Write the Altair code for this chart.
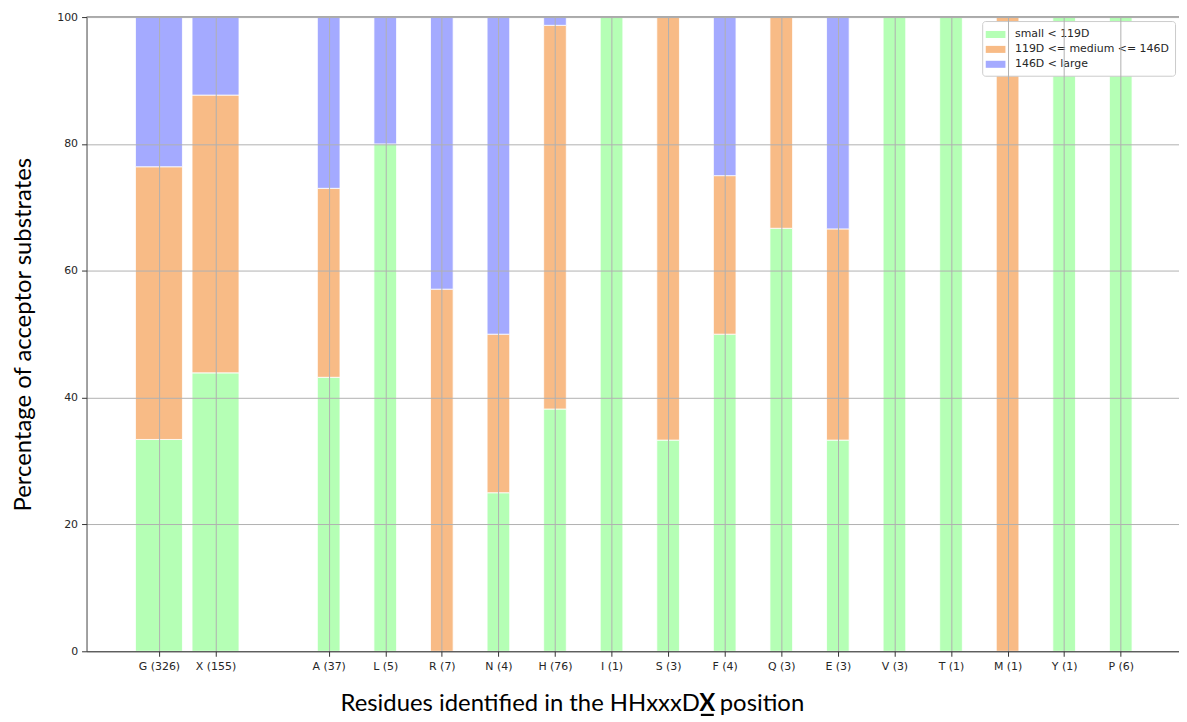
import altair as alt
import pandas as pd

categories = ["G (326)", "X (155)", "A (37)", "L (5)", "R (7)", "N (4)", "H (76)", "I (1)",
              "S (3)", "F (4)", "Q (3)", "E (3)", "V (3)", "T (1)", "M (1)", "Y (1)", "P (6)"]
positions = [0, 1, 3, 4, 5, 6, 7, 8, 9, 10, 11, 12, 13, 14, 15, 16, 17]
bar_widths = [0.83, 0.83] + [0.4] * 15
small = [33.4, 43.9, 43.2, 80.0, 0.0, 25.0, 38.2, 100.0, 33.3, 50.0, 66.7, 33.3, 100.0, 100.0, 0.0, 100.0, 100.0]
medium = [43.0, 43.8, 29.8, 0.0, 57.1, 25.0, 60.5, 0.0, 66.7, 25.0, 33.3, 33.3, 0.0, 0.0, 100.0, 0.0, 0.0]
large = [23.6, 12.3, 27.0, 20.0, 42.9, 50.0, 1.3, 0.0, 0.0, 25.0, 0.0, 33.4, 0.0, 0.0, 0.0, 0.0, 0.0]
series = ["small < 119D", "119D <= medium <= 146D", "146D < large"]
colors = ["#b5ffb5", "#f8bb86", "#a4aaff"]

rows = []
for i, cat in enumerate(categories):
    for k, vals in enumerate([small, medium, large]):
        rows.append({"cat": cat, "pos": positions[i], "w": bar_widths[i],
                     "series": series[k], "order": k, "value": vals[i]})
df = pd.DataFrame(rows)

label_expr = "[" + ",".join("'%s'" % c for c in categories) + "][indexof([" + \
    ",".join(str(p) for p in positions) + "], datum.value)]"

W, H = 1099, 638

bars = alt.Chart(df).transform_filter("datum.value > 0").transform_stack(
    stack="value", groupby=["pos"], sort=[{"field": "order", "order": "ascending"}], as_=["y0", "y1"]
).transform_calculate(
    x0="datum.pos - datum.w / 2", x1="datum.pos + datum.w / 2"
).mark_bar(stroke="white", strokeWidth=0.8).encode(
    x=alt.X("x0:Q", scale=alt.Scale(domain=[-1.28, 18.03], nice=False, zero=False),
            axis=alt.Axis(values=positions, labelExpr=label_expr, title=None, grid=True,
                          gridColor="#b0b0b0", gridWidth=1, tickSize=5, tickColor="#333",
                          domainColor="#333", labelPadding=4, zindex=1)),
    x2="x1:Q",
    y=alt.Y("y0:Q", scale=alt.Scale(domain=[0, 100], nice=False),
            axis=alt.Axis(values=[0, 20, 40, 60, 80, 100], title="Percentage of acceptor substrates",
                          grid=True, gridColor="#b0b0b0", gridWidth=1, tickSize=5, tickColor="#333",
                          domainColor="#444", labelPadding=4, titlePadding=21, zindex=1)),
    y2="y1:Q",
    color=alt.Color("series:N", scale=alt.Scale(domain=series, range=colors),
                    legend=alt.Legend(title=None, orient="top-right", offset=4)),
)

top_rule = alt.Chart(pd.DataFrame({"v": [100]})).mark_rule(color="#333", strokeWidth=1).encode(
    y=alt.Y("v:Q")
)

title_df = pd.DataFrame({"a": [0]})
tfont = "Lato"
tsize = 24
ybase = 698
t1 = alt.Chart(title_df).mark_text(text="Residues identified in the HHxxxD", align="right",
                                   baseline="alphabetic", font=tfont, fontSize=tsize, color="black").encode(
    x=alt.value(617), y=alt.value(ybase))
t2 = alt.Chart(title_df).mark_text(text="X", align="center", baseline="alphabetic", font=tfont,
                                   fontSize=tsize, fontWeight="bold", color="black").encode(
    x=alt.value(624.5), y=alt.value(ybase))
t3 = alt.Chart(title_df).mark_text(text="position", align="left", baseline="alphabetic", font=tfont,
                                   fontSize=tsize, color="black").encode(
    x=alt.value(637), y=alt.value(ybase))
underline = alt.Chart(title_df).mark_rule(color="black", strokeWidth=2.2).encode(
    x=alt.value(618), x2=alt.value(631), y=alt.value(ybase + 4))

chart = alt.layer(bars, top_rule, t1, t2, t3, underline).properties(
    width=W, height=H,
    autosize=alt.AutoSizeParams(type="none"),
    padding={"left": 79, "top": 7, "right": 0, "bottom": 69},
).configure_view(stroke=None).configure_axis(
    labelFont="DejaVu Sans", labelFontSize=11, labelColor="#262626",
    titleFont="Lato", titleFontSize=24, titleFontWeight="normal", titleColor="black",
).configure_legend(
    labelFont="DejaVu Sans", labelFontSize=11, labelColor="#262626",
    symbolType="M-1.4,-0.5L1.4,-0.5L1.4,0.5L-1.4,0.5Z", symbolSize=200, symbolStrokeWidth=0,
    labelOffset=12, rowPadding=2, padding=6, strokeColor="#cccccc", fillColor="white",
    cornerRadius=3,
)

chart.save("out.html", embed_options={"renderer": "svg", "actions": False})
